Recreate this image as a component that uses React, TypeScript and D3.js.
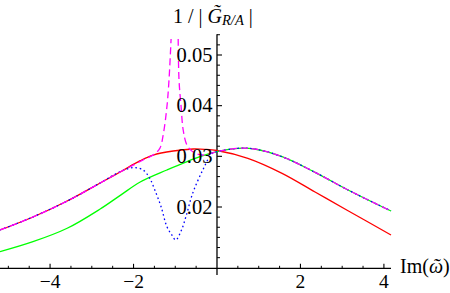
import React from 'react';
import * as d3 from 'd3';

const W = 450;
const H = 293;

// Red solid curve
const redX = [-5.2, -4.41, -3.59, -2.8, -2.32, -1.84, -1.53, -1.05, -0.57, -0.29, 0, 0.74, 1.56, 2.35, 3.14, 4.17];
const redY = [0.01546, 0.01803, 0.02118, 0.02474, 0.02691, 0.02914, 0.03026, 0.03105, 0.03145, 0.03139, 0.03115, 0.02961, 0.02665, 0.02296, 0.01927, 0.01447];

// Green solid curve
const greenX = [-5.2, -4.41, -3.59, -2.8, -2.3, -1.84, -1.2, -0.41, 0, 0.5, 0.9, 1.56, 2.35, 3.14, 4.17];
const greenY = [0.01118, 0.01315, 0.0158, 0.0196, 0.0224, 0.02493, 0.0273, 0.02993, 0.03091, 0.03158, 0.03145, 0.02993, 0.02684, 0.02336, 0.01921];

// Blue dotted curve
const blueX = [-5.2, -4.41, -3.59, -2.8, -2.32, -2.01, -1.77, -1.61, -1.49, -1.34, -1.2, -1.08, -0.99, -0.86, -0.74, -0.58, -0.34, -0.12, 0, 0.5, 0.9, 1.56, 2.35, 3.14, 4.17];
const blueY = [0.01546, 0.01803, 0.02118, 0.02474, 0.02697, 0.02776, 0.0273, 0.02566, 0.02336, 0.02006, 0.01611, 0.01447, 0.01349, 0.01526, 0.01822, 0.02276, 0.0273, 0.03056, 0.03091, 0.03158, 0.03145, 0.02993, 0.02684, 0.02336, 0.01921];

// Magenta dashed curve (NaN = break at the pole)
const magentaX = [-5.2, -4.41, -3.59, -2.8, -2.32, -1.77, -1.53, -1.37, -1.29, -1.2, -1.15, -1.1, -1.02, -0.93, -0.91, -0.86, -0.81, -0.72, -0.58, -0.34, 0, 0.5, 0.9, 1.56, 2.35, 3.14, 4.17];
const magentaY = [0.01546, 0.01803, 0.02118, 0.02474, 0.02691, 0.02928, 0.03026, 0.03158, 0.0342, 0.03979, 0.04506, 0.05316, NaN, 0.05316, 0.04506, 0.03979, 0.0352, 0.03224, 0.03091, 0.03026, 0.03091, 0.03158, 0.03145, 0.02993, 0.02684, 0.02336, 0.01921];

const xMajorTicks = [-4, -2, 2, 4];
const xTickLabels = ['\u22124', '\u22122', '2', '4'];
const yMajorTicks = [0.02, 0.03, 0.04, 0.05];
const yTickLabels = ['0.02', '0.03', '0.04', '0.05'];

const X_DOMAIN: [number, number] = [-5.2, 4.17];
const Y_AXIS_ORIGIN = 0.0079;
const Y_AXIS_TOP = 0.0541;
const Y_AXIS_BOTTOM = 0.0066;

const FONT = "'Liberation Serif', 'DejaVu Serif', 'Times New Roman', Times, serif";
const txt: React.CSSProperties = { fontFamily: FONT };

export default function App() {
  const x = d3.scaleLinear().domain(X_DOMAIN).range([0, 391]);
  const y = d3.scaleLinear().domain([0.02, 0.05]).range([207, 55]);

  const line = d3
    .line<[number, number]>()
    .defined((d) => !Number.isNaN(d[1]))
    .x((d) => x(d[0]))
    .y((d) => y(d[1]))
    .curve(d3.curveCatmullRom.alpha(0.5));

  const zip = (a: number[], b: number[]) => a.map((v, i) => [v, b[i]] as [number, number]);

  const x0 = x(0);
  const yOrigin = y(Y_AXIS_ORIGIN);

  const xMinor = d3
    .range(-5, 4.01, 0.5)
    .filter((v) => Math.abs(v) > 1e-9 && !xMajorTicks.some((m) => Math.abs(m - v) < 1e-9));
  const yMinor = d3
    .range(0.01, 0.0545, 0.002)
    .filter((v) => !yMajorTicks.some((m) => Math.abs(m - v) < 1e-9));

  const lw = 1.3;

  return (
    <svg
      width={W}
      height={H}
      style={{ position: 'absolute', left: 0, top: 0, background: '#fff' }}
    >
      <defs>
        <clipPath id="plotclip">
          <rect x={0} y={39} width={W} height={H - 39} />
        </clipPath>
      </defs>

      {/* axes */}
      <line x1={x(X_DOMAIN[0])} x2={x(X_DOMAIN[1])} y1={yOrigin} y2={yOrigin} stroke="#000" strokeWidth={1.3} />
      <line x1={x0} x2={x0} y1={y(Y_AXIS_TOP)} y2={y(Y_AXIS_BOTTOM)} stroke="#000" strokeWidth={1.3} />

      {xMajorTicks.map((t) => (
        <line key={'xm' + t} x1={x(t)} x2={x(t)} y1={yOrigin} y2={yOrigin - 4.5} stroke="#000" strokeWidth={1.1} />
      ))}
      {xMinor.map((t) => (
        <line key={'xn' + t} x1={x(t)} x2={x(t)} y1={yOrigin} y2={yOrigin - 2.5} stroke="#000" strokeWidth={1} />
      ))}
      {yMajorTicks.map((t) => (
        <line key={'ym' + t} x1={x0} x2={x0 + 5} y1={y(t)} y2={y(t)} stroke="#000" strokeWidth={1.1} />
      ))}
      {yMinor.map((t) => (
        <line key={'yn' + t} x1={x0} x2={x0 + 3} y1={y(t)} y2={y(t)} stroke="#000" strokeWidth={1} />
      ))}

      {/* curves */}
      <g clipPath="url(#plotclip)" fill="none" strokeLinejoin="round">
        <path d={line(zip(redX, redY)) || ''} stroke="#ff0000" strokeWidth={lw} />
        <path d={line(zip(greenX, greenY)) || ''} stroke="#00ff00" strokeWidth={lw} />
        <path d={line(zip(blueX, blueY)) || ''} stroke="#0000ff" strokeWidth={lw} strokeDasharray="1.6,2.8" />
        <path d={line(zip(magentaX, magentaY)) || ''} stroke="#ff00ff" strokeWidth={lw} strokeDasharray="7,4" />
      </g>

      {/* tick labels */}
      {xMajorTicks.map((t, i) => (
        <text key={'xl' + t} x={x(t)} y={288} fontSize={19.5} textAnchor="middle" fill="#000" style={txt}>
          {xTickLabels[i]}
        </text>
      ))}
      {yMajorTicks.map((t, i) => (
        <text key={'yl' + t} x={x0 - 4.5} y={y(t) + 6.5} fontSize={20.5} textAnchor="end" fill="#000" style={txt}>
          {yTickLabels[i]}
        </text>
      ))}

      {/* axis labels */}
      <text x={173} y={22.5} fontSize={20} fill="#000" style={txt}>
        <tspan>{'1 / | '}</tspan>
        <tspan fontStyle="italic">{'G\u0303'}</tspan>
        <tspan fontStyle="italic" fontSize={14.5} dy={2}>{'R/A'}</tspan>
        <tspan dy={-2}>{' |'}</tspan>
      </text>
      <text x={400} y={273} fontSize={20} fill="#000" style={txt}>
        <tspan>{'Im('}</tspan>
        <tspan fontStyle="italic">{'\u1FF6'}</tspan>
        <tspan>{')'}</tspan>
      </text>
    </svg>
  );
}
